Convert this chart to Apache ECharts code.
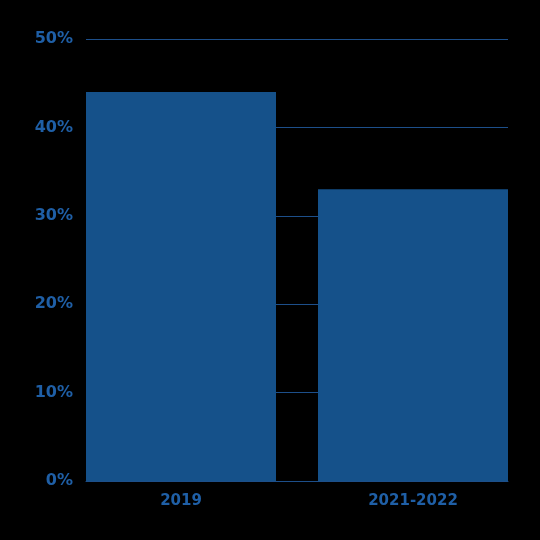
<!DOCTYPE html>
<html><head><meta charset="utf-8">
<script src="https://cdn.jsdelivr.net/npm/echarts@6/dist/echarts.min.js"></script>
<style>html,body{margin:0;padding:0;background:#000;}#c{width:540px;height:540px;}</style>
</head><body><div id="c"></div>
<script>
const categories = ['2019', '2021-2022'];
const values = [44, 33];
const yTicks = [0, 10, 20, 30, 40, 50];

const labelColor = '#1f5fa6';
const lineColor = '#1d4f8a';
const chart = echarts.init(document.getElementById('c'), null, {renderer: 'canvas'});
chart.setOption({
  backgroundColor: '#000000',
  animation: false,
  grid: [
    {left: 86, right: 32, top: 39, bottom: 59, containLabel: false},
    {left: 65, right: 11, top: 39, bottom: 59, containLabel: false}
  ],
  xAxis: [{
    gridIndex: 0,
    type: 'category',
    data: categories,
    axisLine: {show: true, lineStyle: {color: lineColor, width: 1}},
    axisTick: {show: false},
    axisLabel: {show: false}
  }, {
    gridIndex: 1,
    type: 'category',
    data: categories,
    axisLine: {show: false},
    axisTick: {show: false},
    axisLabel: {color: labelColor, fontFamily: 'DejaVu Sans', fontWeight: 'bold', fontSize: 15, margin: 13}
  }],
  yAxis: [{
    gridIndex: 0,
    type: 'value',
    min: yTicks[0], max: yTicks[yTicks.length - 1], interval: 10,
    axisLine: {show: false},
    axisTick: {show: false},
    splitLine: {show: true, lineStyle: {color: lineColor, width: 1}},
    axisLabel: {color: labelColor, fontFamily: 'DejaVu Sans', fontWeight: 'bold', fontSize: 16, margin: 13, formatter: '{value}%'}
  }, {
    gridIndex: 1,
    type: 'value',
    min: yTicks[0], max: yTicks[yTicks.length - 1], interval: 10,
    show: false,
    splitLine: {show: false}
  }],
  series: [{
    type: 'bar',
    xAxisIndex: 1,
    yAxisIndex: 1,
    data: values,
    barWidth: 190,
    itemStyle: {color: '#15518a'},
    z: 3
  }]
});
</script></body></html>
